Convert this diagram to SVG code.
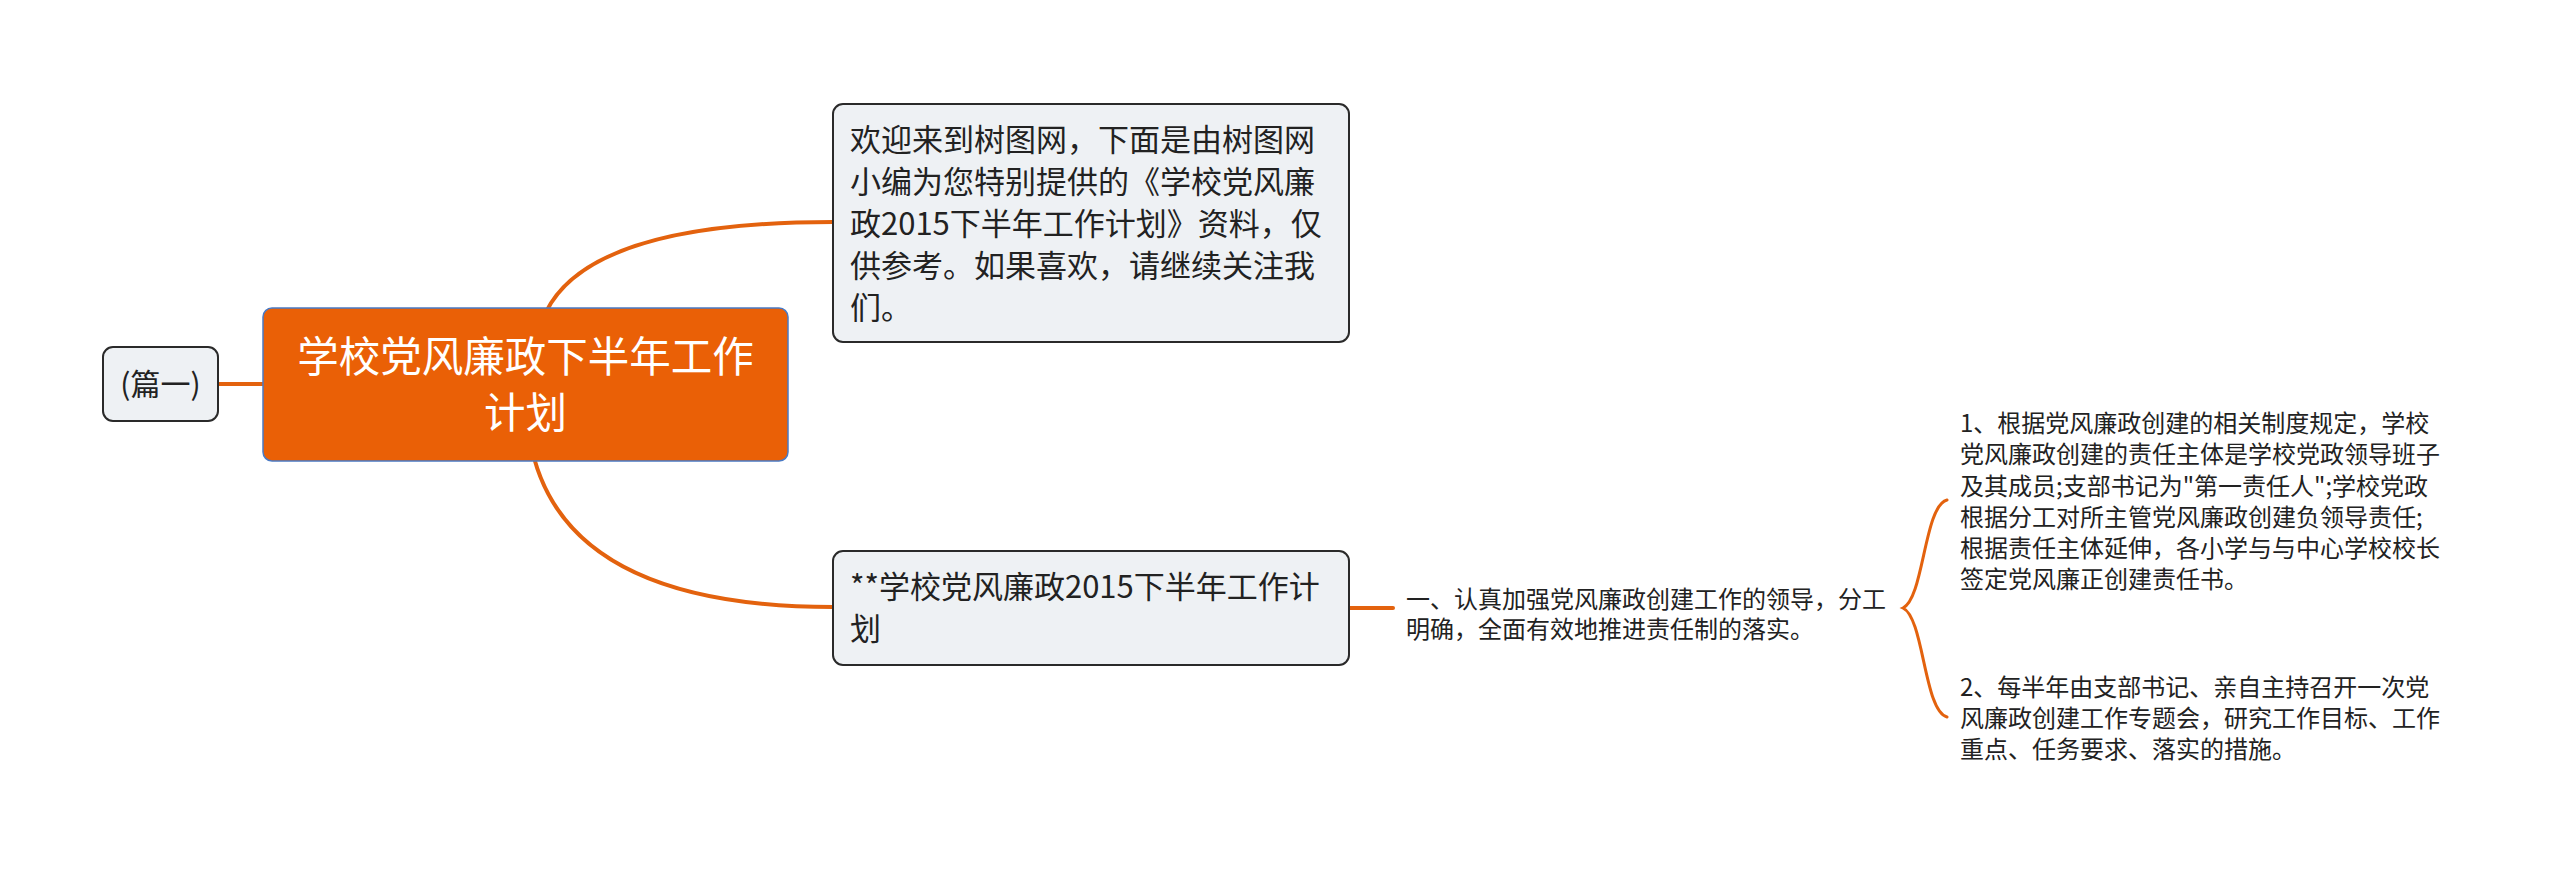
<svg xmlns="http://www.w3.org/2000/svg" width="2560" height="879" viewBox="0 0 2560 879">
<style>
.conn{fill:none;stroke:#E3620E;stroke-width:4;stroke-linecap:round}
.brace{fill:none;stroke:#E3620E;stroke-width:3;stroke-linecap:round}
.box{fill:#EEF1F4;stroke:#2a2a2a;stroke-width:2}
.root{fill:#EA6006;stroke:#4A7AC4;stroke-width:1.5}
.t{font-family:"Noto Sans CJK SC","Noto Sans",sans-serif;fill:#222}
.b{font-size:31px}
.s{font-size:24px}
.rt{font-family:"Noto Sans CJK SC","Noto Sans",sans-serif;fill:#fff;font-size:41.5px}
</style>
<rect width="2560" height="879" fill="#fff"/>
<g id="connectors">
<path class="conn" d="M218,384 H265"/>
<path class="conn" d="M546,312 Q590,222 833,222"/>
<path class="conn" d="M530,440 Q560,607 833,607"/>
<path class="conn" d="M1349,608 H1393"/>
<path class="brace" d="M1947,500 C1924,506 1924,598 1903,608 C1924,618 1924,711 1947,717"/>
</g>
<g id="node-pian1">
<rect class="box" x="103" y="347" width="115" height="74" rx="10"/>
<text class="t" x="160.5" y="395" font-size="30" text-anchor="middle">(篇一)</text>
</g>
<g id="node-root">
<rect class="root" x="263" y="308" width="525" height="153" rx="9"/>
<text class="rt" x="525.5" y="372" text-anchor="middle">学校党风廉政下半年工作</text>
<text class="rt" x="525.5" y="428" text-anchor="middle">计划</text>
</g>
<g id="node-welcome">
<rect class="box" x="833" y="104" width="516" height="238" rx="10"/>
<text class="t b" x="850" y="151">欢迎来到树图网，下面是由树图网</text>
<text class="t b" x="850" y="193">小编为您特别提供的《学校党风廉</text>
<text class="t b" x="850" y="235">政2015下半年工作计划》资料，仅</text>
<text class="t b" x="850" y="277">供参考。如果喜欢，请继续关注我</text>
<text class="t b" x="850" y="319">们。</text>
</g>
<g id="node-plan">
<rect class="box" x="833" y="551" width="516" height="114" rx="10"/>
<text class="t b" x="850" y="598">**学校党风廉政2015下半年工作计</text>
<text class="t b" x="850" y="640">划</text>
</g>
<g id="node-item1">
<text class="t s" x="1406" y="608">一、认真加强党风廉政创建工作的领导，分工</text>
<text class="t s" x="1406" y="638">明确，全面有效地推进责任制的落实。</text>
</g>
<g id="node-sub1">
<text class="t s" x="1960" y="432">1、根据党风廉政创建的相关制度规定，学校</text>
<text class="t s" x="1960" y="463">党风廉政创建的责任主体是学校党政领导班子</text>
<text class="t s" x="1960" y="495">及其成员;支部书记为"第一责任人";学校党政</text>
<text class="t s" x="1960" y="526">根据分工对所主管党风廉政创建负领导责任;</text>
<text class="t s" x="1960" y="557">根据责任主体延伸，各小学与与中心学校校长</text>
<text class="t s" x="1960" y="588">签定党风廉正创建责任书。</text>
</g>
<g id="node-sub2">
<text class="t s" x="1960" y="696">2、每半年由支部书记、亲自主持召开一次党</text>
<text class="t s" x="1960" y="727">风廉政创建工作专题会，研究工作目标、工作</text>
<text class="t s" x="1960" y="758">重点、任务要求、落实的措施。</text>
</g>
</svg>
